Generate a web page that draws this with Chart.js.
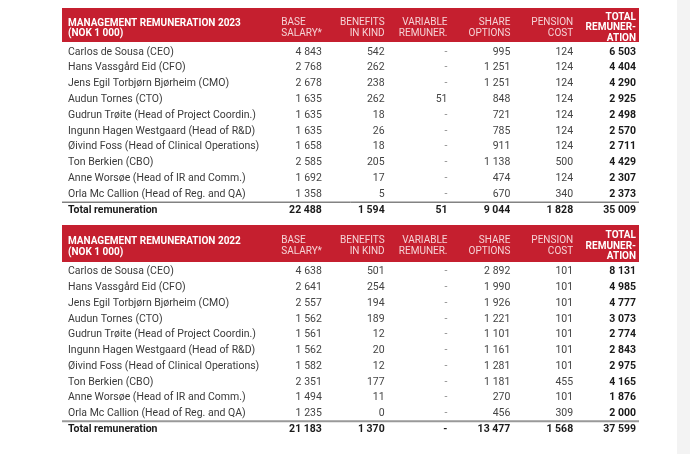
<!DOCTYPE html>
<html>
<head>
<meta charset="utf-8">
<script src="https://cdn.jsdelivr.net/npm/chart.js@4.4.1/dist/chart.umd.min.js"></script>
<style>
  body { margin: 0; background: #fff; width: 690px; height: 454px; overflow: hidden; position: relative; }
  canvas { position: absolute; left: 0; }
  .strip { position: absolute; left: 677px; top: 0; width: 13px; height: 454px; background: #f3f3f3; }
</style>
</head>
<body>
<canvas id="t2023" width="690" height="224" style="top:0"></canvas>
<canvas id="t2022" width="690" height="230" style="top:224px"></canvas>
<div class="strip"></div>
<script>
const columnKeys = ["base", "benefits", "variable", "share", "pension", "total"];
const columnHeads = [
    ["BASE", "SALARY*"],
    ["BENEFITS", "IN KIND"],
    ["VARIABLE", "REMUNER."],
    ["SHARE", "OPTIONS"],
    ["PENSION", "COST"],
    ["TOTAL", "REMUNER-", "ATION"],
];
const names = [
    "Carlos de Sousa (CEO)",
    "Hans Vassgård Eid (CFO)",
    "Jens Egil Torbjørn Bjørheim (CMO)",
    "Audun Tornes (CTO)",
    "Gudrun Trøite (Head of Project Coordin.)",
    "Ingunn Hagen Westgaard (Head of R&D)",
    "Øivind Foss (Head of Clinical Operations)",
    "Ton Berkien (CBO)",
    "Anne Worsøe (Head of IR and Comm.)",
    "Orla Mc Callion (Head of Reg. and QA)",
    "Total remuneration",
];

// 2023 (NOK 1 000), last entry is the total row
const base2023 = [4843, 2768, 2678, 1635, 1635, 1635, 1658, 2585, 1692, 1358, 22488];
const benefits2023 = [542, 262, 238, 262, 18, 26, 18, 205, 17, 5, 1594];
const variable2023 = [null, null, null, 51, null, null, null, null, null, null, 51];
const share2023 = [995, 1251, 1251, 848, 721, 785, 911, 1138, 474, 670, 9044];
const pension2023 = [124, 124, 124, 124, 124, 124, 124, 500, 124, 340, 1828];
const total2023 = [6503, 4404, 4290, 2925, 2498, 2570, 2711, 4429, 2307, 2373, 35009];

// 2022 (NOK 1 000)
const base2022 = [4638, 2641, 2557, 1562, 1561, 1562, 1582, 2351, 1494, 1235, 21183];
const benefits2022 = [501, 254, 194, 189, 12, 20, 12, 177, 11, 0, 1370];
const variable2022 = [null, null, null, null, null, null, null, null, null, null, null];
const share2022 = [2892, 1990, 1926, 1221, 1101, 1161, 1281, 1181, 270, 456, 13477];
const pension2022 = [101, 101, 101, 101, 101, 101, 101, 455, 101, 309, 1568];
const total2022 = [8131, 4985, 4777, 3073, 2774, 2843, 2975, 4165, 1876, 2000, 37599];

const FONT = "Roboto";
const RED = "#c51f2f";

const fmt = v => v === null ? "-" : String(v).replace(/\B(?=(\d{3})+(?!\d))/g, " ");

const remTable = {
    id: "remTable",
    beforeDatasetsDraw(chart, args, opts) {
        const {ctx, chartArea} = chart;
        const x = chart.scales.x;
        const y = chart.scales.y;
        const left = opts.left;
        const right = chartArea.right + 3;
        const top = opts.top;
        const bottom = chartArea.top - 2;
        const band = x.width / x.getLabels().length;

        ctx.save();
        ctx.fillStyle = RED;
        ctx.fillRect(left, top, right - left, bottom - top);

        const mid = (top + bottom) / 2 + 3;
        ctx.textBaseline = "middle";
        ctx.textAlign = "left";
        ctx.fillStyle = "#fff";
        ctx.font = "bold 10px " + FONT;
        opts.title.forEach((t, i) => ctx.fillText(t, left + 6, mid - 5 + i * 10.5));

        columnHeads.forEach((lines, k) => {
            const r = x.getPixelForValue(k) + band / 2;
            const last = k === columnHeads.length - 1;
            ctx.font = (last ? "bold " : "") + "10px " + FONT;
            ctx.fillStyle = last ? "#fff" : "#f5d3d6";
            const step = lines.length > 2 ? 10.5 : 11;
            const y0 = mid - 0.5 - (lines.length - 1) * step / 2;
            if (k === 0) {
                const w = Math.max(...lines.map(l => ctx.measureText(l).width));
                ctx.textAlign = "left";
                lines.forEach((l, i) => ctx.fillText(l, r - w, y0 + i * step));
            } else {
                ctx.textAlign = "right";
                lines.forEach((l, i) => ctx.fillText(l, r, y0 + i * step));
            }
        });

        // row labels
        const labels = y.getLabels();
        ctx.textAlign = "left";
        labels.forEach((name, i) => {
            const isTotal = i === labels.length - 1;
            ctx.font = (isTotal ? "bold " : "") + "10.5px " + FONT;
            ctx.fillStyle = isTotal ? "#1a1a1a" : "#3a3a3a";
            ctx.fillText(name, left + 6, y.getPixelForValue(i));
        });

        // rule above the total row
        const n = labels.length;
        const ly = (y.getPixelForValue(n - 2) + y.getPixelForValue(n - 1)) / 2;
        ctx.strokeStyle = opts.ruleColor;
        ctx.lineWidth = opts.ruleWidth;
        ctx.beginPath();
        ctx.moveTo(left, ly);
        ctx.lineTo(right, ly);
        ctx.stroke();
        ctx.restore();
    },
    afterDatasetsDraw(chart) {
        const {ctx} = chart;
        const x = chart.scales.x;
        const band = x.width / x.getLabels().length;
        const rows = chart.scales.y.getLabels().length;
        ctx.save();
        ctx.textBaseline = "middle";
        ctx.textAlign = "right";
        chart.data.datasets.forEach((ds, k) => {
            const lastCol = k === chart.data.datasets.length - 1;
            chart.getDatasetMeta(k).data.forEach((pt, i) => {
                const v = ds.data[i].v;
                const bold = lastCol || i === rows - 1;
                ctx.font = (bold ? "bold " : "") + "10.5px " + FONT;
                ctx.fillStyle = bold ? "#1a1a1a" : (v === null ? "#8a8a8a" : "#444");
                ctx.fillText(fmt(v), pt.x + band / 2, pt.y);
            });
        });
        ctx.restore();
    }
};

function makeTable(id, title, series, layout, header) {
    const ctx = document.getElementById(id).getContext("2d");
    new Chart(ctx, {
        type: "scatter",
        data: {
            datasets: series.map((values, k) => ({
                label: columnKeys[k],
                data: values.map((v, i) => ({x: columnKeys[k], y: names[i], v: v})),
                pointRadius: 0,
                pointHoverRadius: 0,
            })),
        },
        options: {
            responsive: false,
            animation: false,
            events: [],
            layout: {padding: layout},
            plugins: {
                legend: {display: false},
                tooltip: {enabled: false},
                remTable: Object.assign({title: title}, header),
            },
            scales: {
                x: {type: "category", labels: columnKeys, offset: true, display: false},
                y: {type: "category", labels: names, offset: true, display: false},
            },
        },
        plugins: [remTable],
    });
}

makeTable("t2023", ["MANAGEMENT REMUNERATION 2023", "(NOK 1 000)"],
    [base2023, benefits2023, variable2023, share2023, pension2023, total2023],
    {left: 259, right: 54, top: 44, bottom: 6},
    {left: 62, top: 8, ruleColor: "#444", ruleWidth: 1});

makeTable("t2022", ["MANAGEMENT REMUNERATION 2022", "(NOK 1 000)"],
    [base2022, benefits2022, variable2022, share2022, pension2022, total2022],
    {left: 259, right: 54, top: 40, bottom: 17},
    {left: 62, top: 1, ruleColor: "#999", ruleWidth: 2});
</script>
</body>
</html>
